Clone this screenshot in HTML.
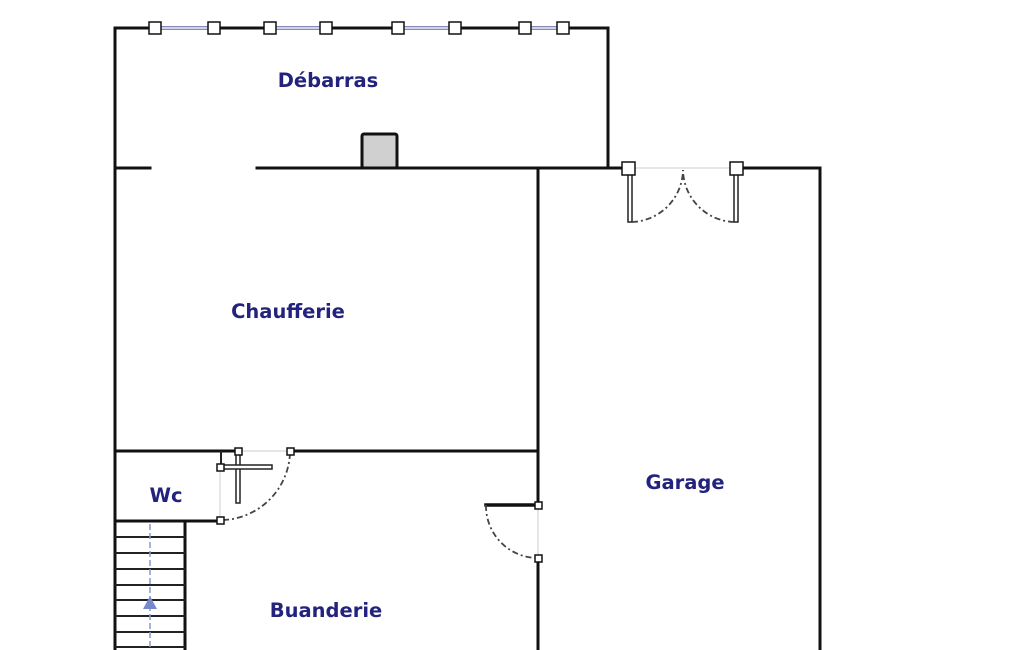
<!DOCTYPE html>
<html><head><meta charset="utf-8"><style>
html,body{margin:0;padding:0;background:#fff;}
svg{display:block;}
text{font-family:"DejaVu Sans","Liberation Sans",sans-serif;font-weight:bold;font-size:19.5px;fill:#23237e;text-anchor:middle;}
</style></head><body>
<svg width="1025" height="650" viewBox="0 0 1025 650" xmlns="http://www.w3.org/2000/svg">
<g stroke="#111" stroke-width="3" fill="none" stroke-linecap="square">
<path d="M115 650 V28 H608 V168"/>
<path d="M115 168 H150"/>
<path d="M257 168 H628"/>
<path d="M736 168 H820 V650"/>
<path d="M538 168 V505"/>
<path d="M538 558 V650"/>
<path d="M115 451 H238"/>
<path d="M290 451 H538"/>
<path d="M115 521 H220"/>
<path d="M185 521 V650"/>
<path d="M486 505 H538" stroke-width="3.5"/>
</g>
<line x1="221" y1="451" x2="221" y2="466" stroke="#222" stroke-width="2"/>
<g stroke="#8888bb" stroke-width="4">
<line x1="155" y1="28" x2="214" y2="28"/><line x1="270" y1="28" x2="326" y2="28"/>
<line x1="398" y1="28" x2="455" y2="28"/><line x1="525" y1="28" x2="563" y2="28"/>
</g>
<g stroke="#fff" stroke-width="1.2">
<line x1="155" y1="28" x2="214" y2="28"/><line x1="270" y1="28" x2="326" y2="28"/>
<line x1="398" y1="28" x2="455" y2="28"/><line x1="525" y1="28" x2="563" y2="28"/>
</g>
<rect x="362" y="134" width="35" height="34" rx="2" fill="#d0d0d0" stroke="#111" stroke-width="3"/>
<g stroke="#222" stroke-width="2">
<line x1="115" y1="537" x2="185" y2="537"/><line x1="115" y1="553" x2="185" y2="553"/>
<line x1="115" y1="569" x2="185" y2="569"/><line x1="115" y1="585" x2="185" y2="585"/>
<line x1="115" y1="600" x2="185" y2="600"/><line x1="115" y1="616" x2="185" y2="616"/>
<line x1="115" y1="632" x2="185" y2="632"/><line x1="115" y1="647" x2="185" y2="647"/>
</g>
<line x1="150" y1="524" x2="150" y2="650" stroke="#8899cc" stroke-width="1.5" stroke-dasharray="6,3"/>
<polygon points="150,596 143,609 157,609" fill="#7788cc"/>
<g stroke="#222" stroke-width="1.5" fill="#fff">
<rect x="236" y="451" width="4" height="52"/>
<rect x="220" y="465" width="52" height="4"/>
<rect x="628" y="170" width="4" height="52"/>
<rect x="734" y="170" width="4" height="52"/>
</g>
<g stroke="#ccc" stroke-width="1">
<line x1="238" y1="451" x2="290" y2="451"/><line x1="220" y1="467" x2="220" y2="520"/>
<line x1="538" y1="505" x2="538" y2="558"/><line x1="628" y1="168" x2="736" y2="168"/>
</g>
<g stroke="#444" stroke-width="1.8" fill="none" stroke-dasharray="6,3,2,3">
<path d="M290 453 A70 70 0 0 1 224 520"/>
<path d="M486 505 A52 52 0 0 0 538 558"/>
<path d="M632 222 A53 53 0 0 0 683 170"/>
<path d="M734 222 A53 53 0 0 1 683 170"/>
</g>
<g fill="#fff" stroke="#111" stroke-width="1.5">
<rect x="149" y="22" width="12" height="12"/><rect x="208" y="22" width="12" height="12"/>
<rect x="264" y="22" width="12" height="12"/><rect x="320" y="22" width="12" height="12"/>
<rect x="392" y="22" width="12" height="12"/><rect x="449" y="22" width="12" height="12"/>
<rect x="519" y="22" width="12" height="12"/><rect x="557" y="22" width="12" height="12"/>
<rect x="622" y="162" width="13" height="13"/><rect x="730" y="162" width="13" height="13"/>
<rect x="235" y="448" width="7" height="7"/><rect x="287" y="448" width="7" height="7"/>
<rect x="217" y="464" width="7" height="7"/><rect x="217" y="517" width="7" height="7"/>
<rect x="535" y="502" width="7" height="7"/><rect x="535" y="555" width="7" height="7"/>
</g>
<text x="328" y="87">Débarras</text>
<text x="288" y="318">Chaufferie</text>
<text x="166" y="502">Wc</text>
<text x="685" y="489">Garage</text>
<text x="326" y="617">Buanderie</text>
</svg>
</body></html>
